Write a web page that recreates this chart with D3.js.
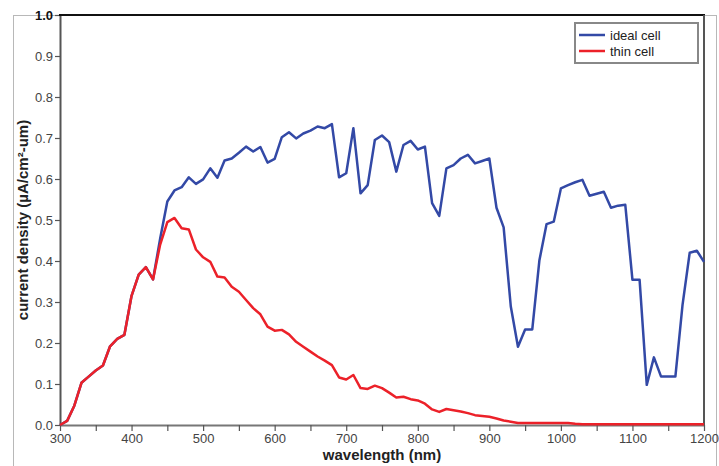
<!DOCTYPE html>
<html>
<head>
<meta charset="utf-8">
<script src="https://cdn.jsdelivr.net/npm/d3@7"></script>
<style>
  html, body { margin: 0; padding: 0; background: #fff; }
  svg { display: block; font-family: "Liberation Sans", Arial, sans-serif; }
</style>
</head>
<body>
<svg id="chart" width="719" height="466"></svg>
<script>
// Wavelength grid (nm)
const wavelength = [
  300, 310, 320, 330, 340, 350, 360, 370, 380, 390,
  400, 410, 420, 430, 440, 450, 460, 470, 480, 490,
  500, 510, 520, 530, 540, 550, 560, 570, 580, 590,
  600, 610, 620, 630, 640, 650, 660, 670, 680, 690,
  700, 710, 720, 730, 740, 750, 760, 770, 780, 790,
  800, 810, 820, 830, 840, 850, 860, 870, 880, 890,
  900, 910, 920, 930, 940, 950, 960, 970, 980, 990,
  1000, 1010, 1020, 1030, 1040, 1050, 1060, 1070, 1080, 1090,
  1100, 1110, 1120, 1130, 1140, 1150, 1160, 1170, 1180, 1190, 1200
];

// Current density of the ideal cell (µA/cm²-um)
const idealCell = [
  0.000, 0.010, 0.047, 0.103, 0.118, 0.133, 0.145, 0.192, 0.210, 0.220,
  0.315, 0.367, 0.385, 0.355, 0.455, 0.545, 0.572, 0.580, 0.604, 0.588,
  0.599, 0.626, 0.603, 0.645, 0.650, 0.664, 0.679, 0.667, 0.678, 0.640,
  0.649, 0.702, 0.714, 0.699, 0.711, 0.718, 0.728, 0.724, 0.734, 0.604,
  0.614, 0.724, 0.565, 0.585, 0.695, 0.706, 0.690, 0.618, 0.683, 0.693,
  0.672, 0.679, 0.541, 0.510, 0.626, 0.634, 0.650, 0.659, 0.638, 0.644,
  0.650, 0.530, 0.482, 0.289, 0.191, 0.233, 0.233, 0.402, 0.490, 0.496,
  0.577, 0.585, 0.592, 0.598, 0.559, 0.564, 0.569, 0.530, 0.535, 0.537,
  0.354, 0.354, 0.098, 0.165, 0.118, 0.118, 0.118, 0.293, 0.420, 0.425, 0.398
];

// Current density of the thin cell (µA/cm²-um)
const thinCell = [
  0.000, 0.010, 0.047, 0.103, 0.118, 0.133, 0.145, 0.192, 0.210, 0.220,
  0.315, 0.367, 0.385, 0.355, 0.440, 0.495, 0.505, 0.480, 0.477, 0.428,
  0.409, 0.398, 0.362, 0.360, 0.337, 0.325, 0.305, 0.285, 0.270, 0.240,
  0.230, 0.232, 0.221, 0.203, 0.191, 0.179, 0.167, 0.157, 0.146, 0.116,
  0.111, 0.122, 0.090, 0.088, 0.096, 0.090, 0.079, 0.067, 0.069, 0.063,
  0.060, 0.052, 0.038, 0.032, 0.039, 0.036, 0.033, 0.029, 0.024, 0.022,
  0.020, 0.016, 0.011, 0.008, 0.005, 0.005, 0.005, 0.005, 0.005, 0.005,
  0.005, 0.005, 0.003, 0.002, 0.002, 0.002, 0.002, 0.002, 0.002, 0.002,
  0.002, 0.002, 0.002, 0.002, 0.002, 0.002, 0.002, 0.002, 0.002, 0.002, 0.002
];

const seriesNames = ["ideal cell", "thin cell"];
const seriesColors = ["#3349a6", "#ec2129"];
const xTicks = [300, 400, 500, 600, 700, 800, 900, 1000, 1100, 1200];
const xMinorTicks = d3.range(300, 1201, 50);
const yTicks = [0.0, 0.1, 0.2, 0.3, 0.4, 0.5, 0.6, 0.7, 0.8, 0.9, 1.0];

const svg = d3.select("#chart");
const plot = { left: 60, right: 704, top: 15, bottom: 425 };

const x = d3.scaleLinear().domain([300, 1200]).range([plot.left, plot.right]);
const y = d3.scaleLinear().domain([0, 1]).range([plot.bottom, plot.top]);

// Outer light frame
svg.append("rect")
  .attr("x", 13.5).attr("y", 15.5)
  .attr("width", 703).attr("height", 470)
  .attr("fill", "none").attr("stroke", "#b8b8b8").attr("stroke-width", 1);

// Y axis
const yAxis = svg.append("g")
  .attr("transform", `translate(${plot.left},0)`)
  .call(d3.axisLeft(y).tickValues(yTicks).tickSize(5).tickSizeOuter(0).tickPadding(2)
    .tickFormat(d3.format(".1f")));
yAxis.select(".domain").attr("stroke", "#555").attr("stroke-width", 2);
yAxis.selectAll(".tick line").attr("stroke", "#555").attr("stroke-width", 1.2);
yAxis.selectAll(".tick text")
  .attr("fill", "#444").style("font-size", "13px")
  .filter(d => d === 1.0).attr("fill", "#111").style("font-weight", "bold");

// X axis
const xAxis = svg.append("g")
  .attr("transform", `translate(0,${plot.bottom})`)
  .call(d3.axisBottom(x).tickValues(xMinorTicks).tickSize(6).tickSizeOuter(0).tickPadding(3)
    .tickFormat(d => xTicks.includes(d) ? d : ""));
xAxis.select(".domain").attr("stroke", "#777").attr("stroke-width", 2);
xAxis.selectAll(".tick line").attr("stroke", "#555").attr("stroke-width", 1.2);
xAxis.selectAll(".tick text").attr("fill", "#444").style("font-size", "13px");

// Top and right borders of the plot area
svg.append("line")
  .attr("x1", plot.left - 1).attr("x2", plot.right + 1)
  .attr("y1", plot.top).attr("y2", plot.top)
  .attr("stroke", "#111").attr("stroke-width", 2);
svg.append("line")
  .attr("x1", plot.right).attr("x2", plot.right)
  .attr("y1", plot.top).attr("y2", plot.bottom)
  .attr("stroke", "#555").attr("stroke-width", 2);

// Axis titles
svg.append("text")
  .attr("x", (plot.left + plot.right) / 2).attr("y", 460)
  .attr("text-anchor", "middle")
  .style("font-size", "15px").style("font-weight", "bold").attr("fill", "#222")
  .text("wavelength (nm)");

svg.append("text")
  .attr("transform", `translate(28,${(plot.top + plot.bottom) / 2}) rotate(-90)`)
  .attr("text-anchor", "middle")
  .style("font-size", "15px").style("font-weight", "bold").attr("fill", "#222")
  .text("current density (µA/cm²-um)");

// Curves
const line = d3.line()
  .x((d, i) => x(wavelength[i]))
  .y(d => y(d));

[idealCell, thinCell].forEach((vals, k) => {
  svg.append("path")
    .datum(vals)
    .attr("fill", "none")
    .attr("stroke", seriesColors[k])
    .attr("stroke-width", 2.5)
    .attr("stroke-linejoin", "round")
    .attr("d", line);
});

// Legend
const legend = svg.append("g").attr("transform", "translate(575,23)");
legend.append("rect")
  .attr("width", 123).attr("height", 40)
  .attr("fill", "#fff").attr("stroke", "#888").attr("stroke-width", 2);
seriesNames.forEach((name, k) => {
  const ly = 12 + k * 16;
  legend.append("line")
    .attr("x1", 4).attr("x2", 30).attr("y1", ly).attr("y2", ly)
    .attr("stroke", seriesColors[k]).attr("stroke-width", 2.5);
  legend.append("text")
    .attr("x", 35).attr("y", ly + 5)
    .style("font-size", "13px").attr("fill", "#222")
    .text(name);
});
</script>
</body>
</html>
